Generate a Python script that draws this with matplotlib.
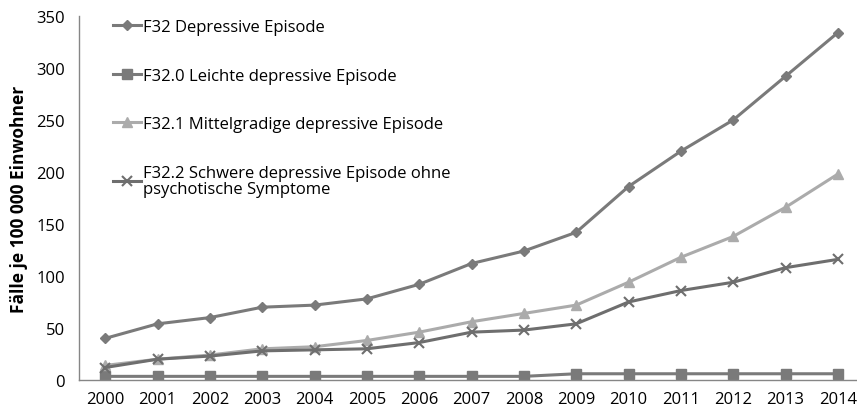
import numpy as np
import matplotlib.pyplot as plt

plt.rcParams['font.family'] = ['Open Sans', 'DejaVu Sans']

years = [str(y) for y in range(2000, 2015)]

f32 = [40, 54, 60, 70, 72, 78, 92, 112, 124, 142, 186, 220, 250, 292, 334]
f32_0 = [3.5, 3.5, 3.5, 3.5, 3.5, 3.5, 3.5, 3.5, 3.5, 6, 6, 6, 6, 6, 6]
f32_1 = [14, 20, 24, 30, 32, 38, 46, 56, 64, 72, 94, 118, 138, 166, 198]
f32_2 = [12, 20, 23, 28, 29, 30, 36, 46, 48, 54, 75, 86, 94, 108, 116]

labels = [
    'F32 Depressive Episode',
    'F32.0 Leichte depressive Episode',
    'F32.1 Mittelgradige depressive Episode',
    'F32.2 Schwere depressive Episode ohne\npsychotische Symptome',
]

W, H = 857, 414
fig = plt.figure(figsize=(W / 100, H / 100), dpi=100)
ax = fig.add_axes([79 / W, 33 / H, 785 / W, 364 / H])

x = np.arange(len(years))
ax.plot(x, f32, color='#7a7a7a', lw=2.2, marker='D', ms=5.5, label=labels[0])
ax.plot(x, f32_0, color='#7a7a7a', lw=2.2, marker='s', ms=7, label=labels[1])
ax.plot(x, f32_1, color='#ababab', lw=2.2, marker='^', ms=7, label=labels[2])
ax.plot(x, f32_2, color='#6e6e6e', lw=2.2, marker='x', ms=7, mew=1.5, label=labels[3])

ax.set_xlim(-0.5, 14.5)
ax.set_ylim(0, 350)
ax.set_yticks(range(0, 351, 50))
ax.set_xticks(x)
ax.set_xticklabels(years)
ax.tick_params(length=0, labelsize=12, colors='black')
ax.tick_params(axis='y', pad=10)
ax.tick_params(axis='x', pad=8)

for side in ['top', 'right']:
    ax.spines[side].set_visible(False)
for side in ['left', 'bottom']:
    ax.spines[side].set_color('#868686')
    ax.spines[side].set_linewidth(1)

ax.set_ylabel('Fälle je 100 000 Einwohner', fontsize=12.5, fontweight='bold', labelpad=6)

leg = ax.legend(loc='upper left', bbox_to_anchor=(0.035, 1.01), frameon=False, fontsize=12,
                handlelength=1.7, handletextpad=0.1, labelspacing=1.95, borderaxespad=0)
for t in leg.get_texts():
    t.set_linespacing(1.08)

fig.savefig('out.png', dpi=100)
